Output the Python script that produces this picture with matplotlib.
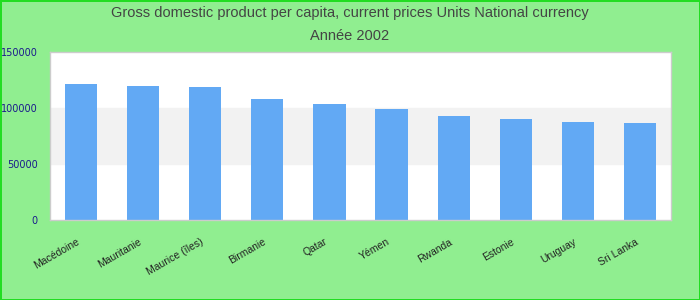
import matplotlib.pyplot as plt
import matplotlib.font_manager as fm

# Data
countries = ["Macédoine", "Mauritanie", "Maurice (îles)", "Birmanie", "Qatar",
             "Yémen", "Rwanda", "Estonie", "Uruguay", "Sri Lanka"]
gdp = [121400, 119600, 118700, 108000, 103600, 99100, 92900, 90200, 87500, 86600]
yticks = [0, 50000, 100000, 150000]

names = {f.name for f in fm.fontManager.ttflist}
title_font = "Liberation Sans Narrow" if "Liberation Sans Narrow" in names else "Liberation Sans"
title_size = 12 if title_font == "Liberation Sans Narrow" else 10.5

fig = plt.figure(figsize=(7, 3), dpi=100)
fig.patch.set_facecolor("#90ee90")
fig.patch.set_edgecolor("#22dd22")
fig.patch.set_linewidth(2)

ax = fig.add_axes([0.0714, 0.2667, 0.8872, 0.5613])
ax.set_facecolor("white")

# alternating band
ax.axhspan(50000, 100000, color="#f2f2f2", zorder=0)

x = range(len(countries))
ax.bar(x, gdp, width=0.52, color="#62a9f4", zorder=2)

ax.set_xlim(-0.5, len(countries) - 0.5)
ax.set_ylim(0, 150000)
ax.set_yticks(yticks)
ax.set_yticklabels([str(v) for v in yticks], color="#1a1a8c", fontsize=7)
ax.set_xticks(list(x))
ax.set_xticklabels(countries, rotation=30, ha="right",
                   fontsize=7.5, color="#222222", family="Liberation Sans")
ax.tick_params(axis="both", length=0)
ax.tick_params(axis="y", pad=9)
ax.tick_params(axis="x", pad=12)

for s in ax.spines.values():
    s.set_color("#cccccc")
    s.set_linewidth(1)

fig.text(0.5, 0.957, "Gross domestic product per capita, current prices Units National currency",
         ha="center", va="center", fontsize=title_size, color="#444444", family=title_font)
fig.text(0.5, 0.88, "Année 2002", ha="center", va="center", fontsize=title_size,
         color="#444444", family=title_font)

fig.savefig("out.png", dpi=100, facecolor=fig.get_facecolor(),
            edgecolor=fig.get_edgecolor())
